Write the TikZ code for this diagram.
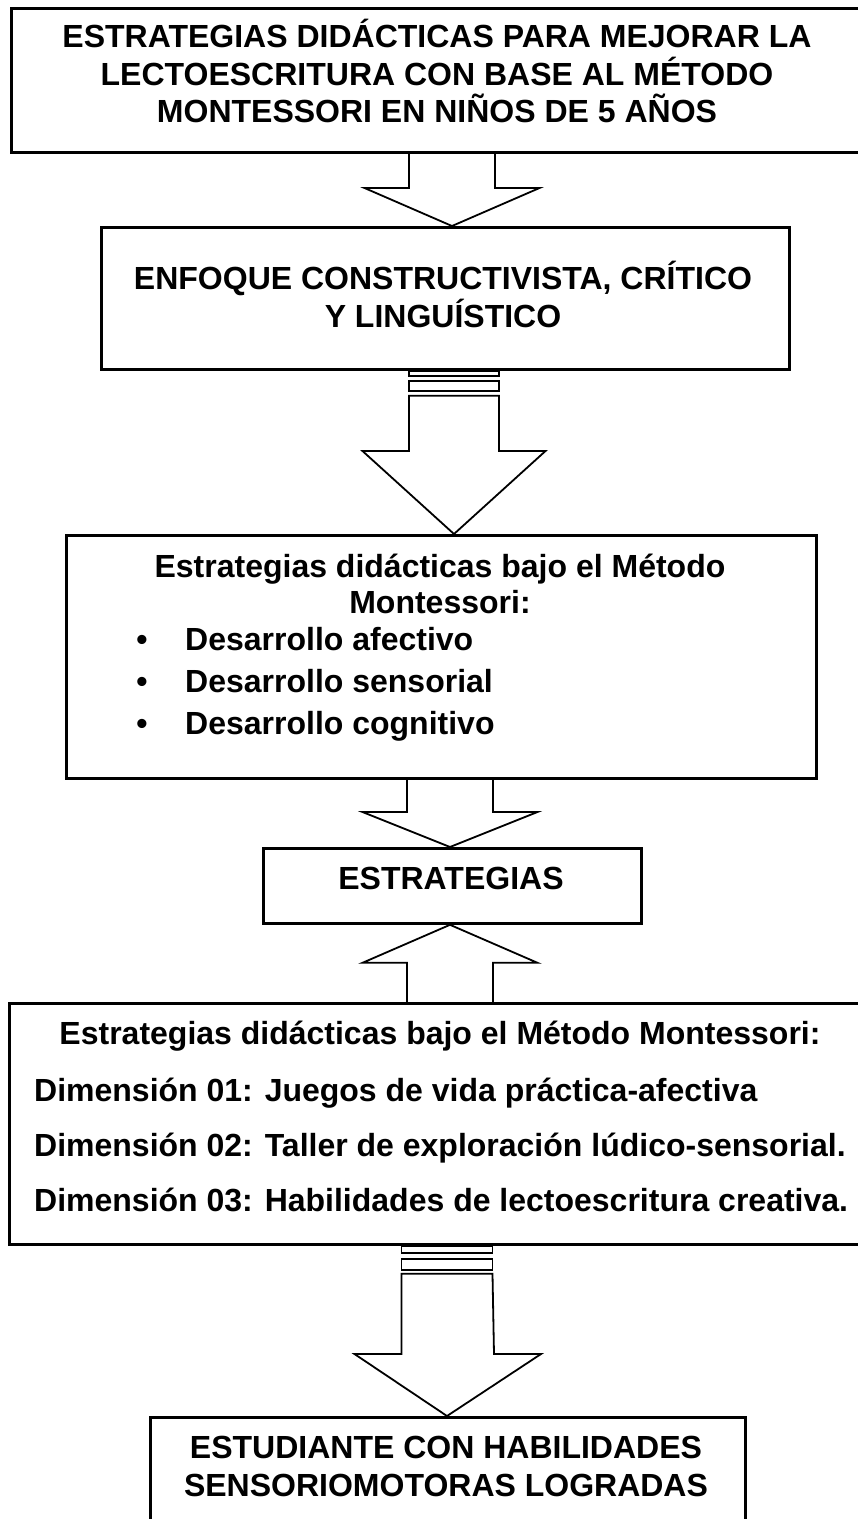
\documentclass[tikz,border=0pt]{standalone}
\usepackage{fontspec}
\setmainfont{Liberation Sans}
\usetikzlibrary{calc}
\begin{document}
\begin{tikzpicture}[x=1pt,y=-1pt,
  boxs/.style={draw, line width=2.8pt, inner sep=0pt, anchor=north west},
  arr/.style={draw, line width=1.8pt, line join=miter},
  txt/.style={font=\bfseries\fontsize{32}{36}\selectfont, inner sep=0pt, anchor=base},
  txtl/.style={txt, anchor=base west}]
\useasboundingbox (0,0) rectangle (858,1519);
% boxes
\node[boxs, minimum width=865pt, minimum height=144pt] (b1) at (10,7) {};
\node[boxs, minimum width=688pt, minimum height=142pt] (b2) at (100,226) {};
\node[boxs, minimum width=750pt, minimum height=243pt] (b3) at (65,534) {};
\node[boxs, minimum width=378pt, minimum height=75pt] (b4) at (262,847) {};
\node[boxs, minimum width=867pt, minimum height=241pt] (b5) at (8,1002) {};
\node[boxs, minimum width=595pt, minimum height=124pt] (b6) at (149,1416) {};
% texts
\node[txt] (t1a) at (437,47) {ESTRATEGIAS DIDÁCTICAS PARA MEJORAR LA};
\node[txt] (t1b) at (437,85) {LECTOESCRITURA CON BASE AL MÉTODO};
\node[txt] (t1c) at (437,122) {MONTESSORI EN NIÑOS DE 5 AÑOS};
\node[txt] (t2a) at (443,289) {ENFOQUE CONSTRUCTIVISTA, CRÍTICO};
\node[txt] (t2b) at (443,327) {Y LINGUÍSTICO};
\node[txt] (t3a) at (440,577) {Estrategias didácticas bajo el Método};
\node[txt] (t3b) at (440,613) {Montessori:};
\node[txt] (p1) at (142,650) {•};
\node[txt] (p2) at (142,692) {•};
\node[txt] (p3) at (142,734) {•};
\node[txtl] (t3c) at (185,650) {Desarrollo afectivo};
\node[txtl] (t3d) at (185,692) {Desarrollo sensorial};
\node[txtl] (t3e) at (185,734) {Desarrollo cognitivo};
\node[txt] (t4) at (451,889) {ESTRATEGIAS};
\node[txt] (t5a) at (440,1044) {Estrategias didácticas bajo el Método Montessori:};
\node[txtl] (t5b) at (34,1101) {Dimensión 01: Juegos de vida práctica-afectiva};
\node[txtl] (t5c) at (34,1156) {Dimensión 02: Taller de exploración lúdico-sensorial.};
\node[txtl] (t5d) at (34,1211) {Dimensión 03: Habilidades de lectoescritura creativa.};
\node[txt] (t6a) at (446,1458) {ESTUDIANTE CON HABILIDADES};
\node[txt] (t6b) at (446,1496) {SENSORIOMOTORAS LOGRADAS};
% arrow axes
\coordinate (c1) at (452,0);
\coordinate (c2) at (454,0);
\coordinate (c3) at (450,0);
\coordinate (c5) at (447,0);
% arrow 1
\draw[arr] ($(b1.south -| c1)+(-43,0)$) -- ($(b2.north -| c1)+(-43,-38)$) -- ++(-44.5,0)
  -- (b2.north -| c1) -- ++(87.5,-38) -- ++(-44.5,0) -- ($(b1.south -| c1)+(43,0)$);
% arrow 2 (striped)
\draw[arr] ($(b2.south -| c2)+(-45,0)$) rectangle ($(b2.south -| c2)+(45,5)$);
\draw[arr] ($(b2.south -| c2)+(-45,10)$) rectangle ($(b2.south -| c2)+(45,20)$);
\draw[arr] ($(b2.south -| c2)+(-45,25)$) -- ($(b3.north -| c2)+(-45,-83)$) -- ++(-46.5,0)
  -- (b3.north -| c2) -- ++(91.5,-83) -- ++(-46.5,0) -- ($(b2.south -| c2)+(45,25)$) -- cycle;
% arrow 3
\draw[arr] ($(b3.south -| c3)+(-43,0)$) -- ($(b4.north -| c3)+(-43,-35)$) -- ++(-44.5,0)
  -- (b4.north -| c3) -- ++(87.5,-35) -- ++(-44.5,0) -- ($(b3.south -| c3)+(43,0)$);
% arrow 4 (up)
\draw[arr] ($(b5.north -| c3)+(-43,0)$) -- ($(b4.south -| c3)+(-43,38)$) -- ++(-44.5,0)
  -- (b4.south -| c3) -- ++(87.5,38) -- ++(-44.5,0) -- ($(b5.north -| c3)+(43,0)$);
% arrow 5 (striped)
\draw[arr] ($(b5.south -| c5)+(-45.5,0)$) rectangle ($(b5.south -| c5)+(45.5,7)$);
\draw[arr] ($(b5.south -| c5)+(-45.5,13)$) rectangle ($(b5.south -| c5)+(45.5,24)$);
\draw[arr] ($(b5.south -| c5)+(-45.5,28)$) -- ($(b6.north -| c5)+(-45.5,-62)$) -- ++(-47,0)
  -- (b6.north -| c5) -- ++(94,-62) -- ++(-47,0) -- ($(b5.south -| c5)+(45.5,28)$) -- cycle;
\end{tikzpicture}
\end{document}
